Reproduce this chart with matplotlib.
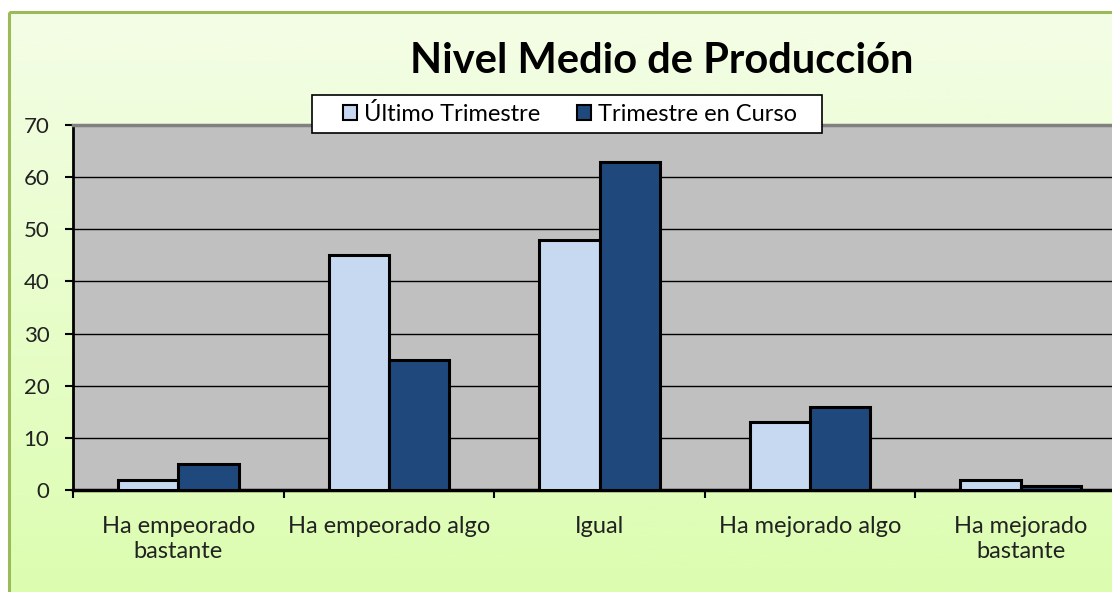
import matplotlib
matplotlib.use("Agg")
import matplotlib.pyplot as plt
import numpy as np
from matplotlib.patches import Rectangle, Patch
from matplotlib.colors import LinearSegmentedColormap

categories = ["Ha empeorado\nbastante", "Ha empeorado algo", "Igual",
              "Ha mejorado algo", "Ha mejorado\nbastante"]
ultimo = [2, 45, 48, 13, 2]
curso = [5, 25, 63, 16, 0.8]
series_names = ["Último Trimestre", "Trimestre en Curso"]
yticks = [0, 10, 20, 30, 40, 50, 60, 70]
title = "Nivel Medio de Producción"

FONT = ["Lato", "DejaVu Sans"]
plt.rcParams["font.family"] = FONT

W, H = 1112, 592
fig = plt.figure(figsize=(W / 100, H / 100), dpi=100)

# background gradient + border
bg = fig.add_axes([0, 0, 1, 1], zorder=-10)
bg.set_xlim(0, W)
bg.set_ylim(H, 0)
bg.axis("off")
cmap = LinearSegmentedColormap.from_list("g", ["#F4FDE6", "#DCFDB0"])
grad = np.linspace(0, 1, 256).reshape(-1, 1)
bg.imshow(grad, cmap=cmap, aspect="auto", extent=(9, W + 20, H, 12), zorder=0)
bg.add_patch(Rectangle((9, 12), W + 30, H, fill=False, edgecolor="#9BBB59",
                       lw=2.2, zorder=1))

# plot area
left_px, right_px, top_px, bot_px = 73, 1126, 125, 490
ax = fig.add_axes([left_px / W, (H - bot_px) / H, (right_px - left_px) / W,
                   (bot_px - top_px) / H])
ax.set_facecolor("#C0C0C0")

x = np.arange(len(categories))
bw = 0.286
ax.bar(x - bw / 2, ultimo, bw, color="#C6D9F1", edgecolor="black", lw=2.2, zorder=3)
ax.bar(x + bw / 2, curso, bw, color="#1F497D", edgecolor="black", lw=2.2, zorder=3)

ax.set_xlim(-0.5, len(categories) - 0.5)
ax.set_ylim(0, 70)
ax.set_yticks(yticks)
ax.set_yticklabels([str(v) for v in yticks], fontsize=16, color="#222222")
ax.yaxis.grid(True, color="black", lw=1.0, zorder=1)
ax.set_axisbelow(True)

ax.set_xticks(np.arange(len(categories) + 1) - 0.5)
ax.set_xticklabels([])
ax.set_xticks(x, minor=True)
ax.set_xticklabels(categories, minor=True, fontsize=17, color="#222222",
                   linespacing=1.2)
ax.tick_params(axis="x", which="minor", length=0, pad=19)
ax.tick_params(axis="x", which="major", length=6, width=1.5, color="black")
ax.tick_params(axis="y", length=6, width=1.5, color="black", pad=11)

ax.spines["right"].set_visible(False)
ax.spines["top"].set_color("#808080")
ax.spines["top"].set_linewidth(2.5)
ax.spines["left"].set_color("black")
ax.spines["left"].set_linewidth(2)
ax.spines["bottom"].set_color("black")
ax.spines["bottom"].set_linewidth(2.5)

fig.text(662 / W, 1 - 61 / H, title, ha="center", va="center",
         fontsize=30, fontweight="bold", color="black")

# legend box
fig.add_artist(Rectangle((312 / W, 1 - 133 / H), 510 / W, 38 / H,
                         transform=fig.transFigure, facecolor="white",
                         edgecolor="black", lw=1.2, zorder=5))
handles = [Patch(facecolor="#C6D9F1", edgecolor="black", lw=1.5),
           Patch(facecolor="#1F497D", edgecolor="black", lw=1.5)]
leg = fig.legend(handles, series_names, loc="center",
                 bbox_to_anchor=(570 / W, 1 - 114 / H), ncol=2, fontsize=17,
                 frameon=False, handlelength=0.6, handleheight=0.6,
                 handletextpad=0.3, columnspacing=1.55, borderpad=0.2)
leg.set_zorder(6)

fig.savefig("out.png", dpi=100)
